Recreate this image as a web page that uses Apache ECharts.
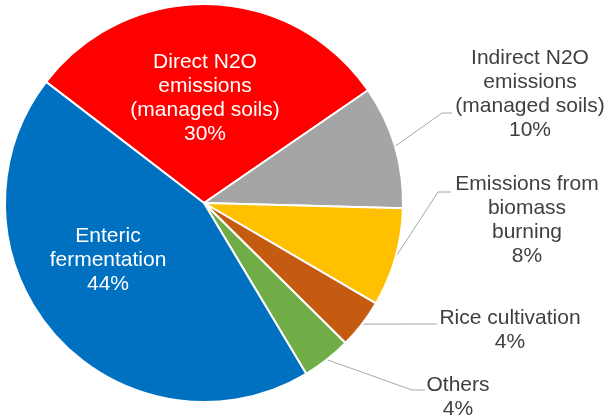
<!DOCTYPE html>
<html>
<head>
<meta charset="utf-8">
<script src="https://cdn.jsdelivr.net/npm/echarts@6/dist/echarts.min.js"></script>
<style>html,body{margin:0;padding:0;background:#fff}#c{width:609px;height:419px}</style>
</head>
<body>
<div id="c"></div>
<script>
var categories = [
  'Direct N2O\nemissions\n(managed soils)',
  'Indirect N2O\nemissions\n(managed soils)',
  'Emissions from\nbiomass\nburning',
  'Rice cultivation',
  'Others',
  'Enteric\nfermentation'
];
var values = [30, 10, 8, 4, 4, 44];
var colors = ['#FF0000', '#A5A5A5', '#FFC000', '#C55A11', '#70AD47', '#0070C0'];
var insideSlices = [true, false, false, false, false, true];
// label anchor (text-block centre x, top y) and leader elbow/end points
var labelAnchor = [[205, 50], [530, 46], [527, 172], [510, 306], [458, 373], [108, 224]];
var leaderBends = [null, [[442, 113], [452, 113]], [[438, 192], [451, 192]], [[430, 324], [437, 324]], [[412, 390], [425, 390]], null];

var chart = echarts.init(document.getElementById('c'), null, {renderer: 'canvas'});
var data = categories.map(function (n, i) {
  return {
    name: n,
    value: values[i],
    itemStyle: {color: colors[i]},
    label: {
      position: insideSlices[i] ? 'inside' : 'outside',
      color: insideSlices[i] ? '#FFFFFF' : '#404040'
    },
    labelLine: {show: !insideSlices[i]}
  };
});
chart.setOption({
  animation: false,
  series: [{
    type: 'pie',
    center: [204, 203],
    radius: 199,
    startAngle: 142.5,
    clockwise: true,
    avoidLabelOverlap: false,
    itemStyle: {borderColor: '#FFFFFF', borderWidth: 2},
    label: {
      fontFamily: 'Liberation Sans, Arial, sans-serif',
      fontSize: 21,
      lineHeight: 24,
      align: 'center',
      formatter: function (p) { return p.name + '\n' + p.value + '%'; }
    },
    labelLine: {lineStyle: {color: '#A6A6A6', width: 1}, length: 20, length2: 10},
    labelLayout: function (params) {
      var i = params.dataIndex;
      var res = {
        x: labelAnchor[i][0],
        y: labelAnchor[i][1],
        align: 'center',
        verticalAlign: 'top'
      };
      if (leaderBends[i] && params.labelLinePoints) {
        res.labelLinePoints = [params.labelLinePoints[0], leaderBends[i][0], leaderBends[i][1]];
      }
      return res;
    },
    data: data
  }]
});
</script>
</body>
</html>
